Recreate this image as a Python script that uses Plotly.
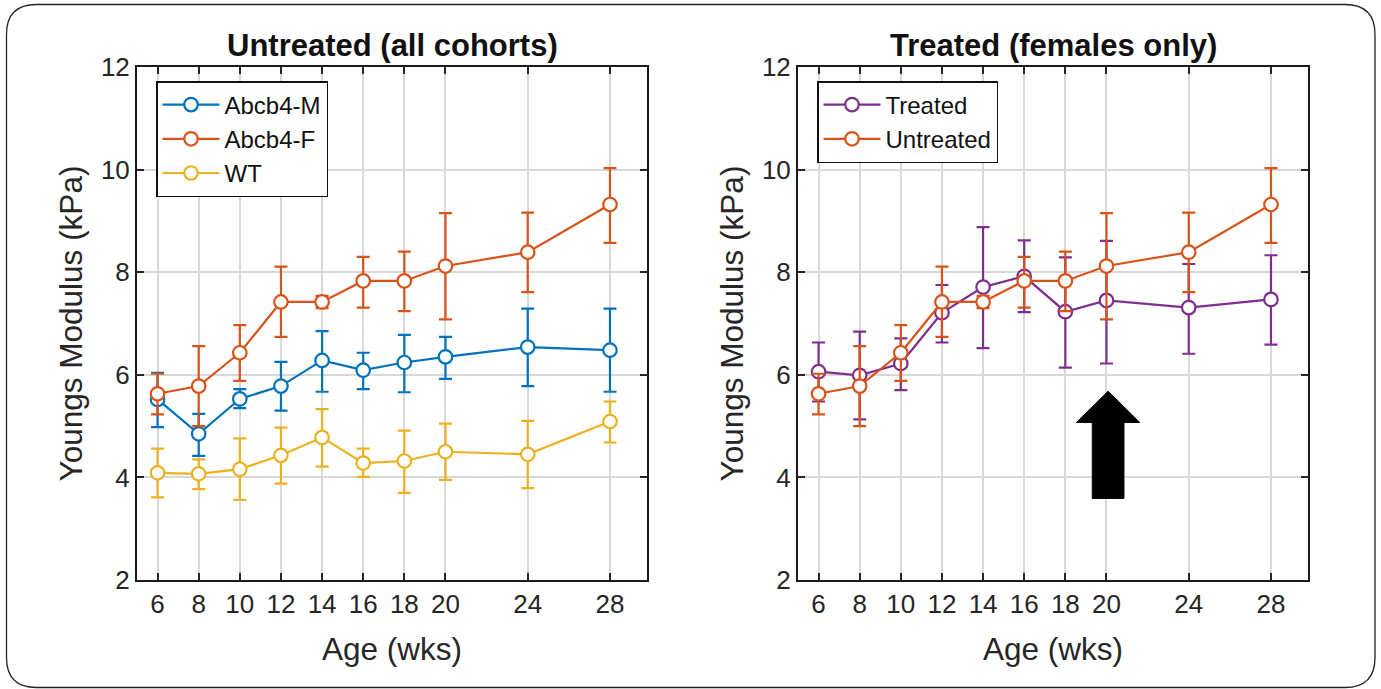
import plotly.graph_objects as go
import numpy as np

# ---------------- data ----------------
age = [6, 8, 10, 12, 14, 16, 18, 20, 24, 28]

abcb4_m = [5.52, 4.85, 5.53, 5.78, 6.28, 6.09, 6.24, 6.35, 6.54, 6.48]
abcb4_m_hi = [6.04, 5.24, 5.72, 6.25, 6.85, 6.43, 6.78, 6.74, 7.29, 7.29]
abcb4_m_lo = [4.98, 4.42, 5.35, 5.30, 5.67, 5.72, 5.66, 5.92, 5.78, 5.67]

abcb4_f = [5.63, 5.78, 6.43, 7.42, 7.42, 7.83, 7.83, 8.12, 8.39, 9.32]
abcb4_f_hi = [6.02, 6.56, 6.97, 8.11, 7.54, 8.30, 8.40, 9.15, 9.16, 10.03]
abcb4_f_lo = [5.23, 5.00, 5.88, 6.74, 7.30, 7.31, 7.24, 7.08, 7.61, 8.57]

wt = [4.09, 4.07, 4.16, 4.43, 4.78, 4.28, 4.32, 4.50, 4.45, 5.09]
wt_hi = [4.56, 4.35, 4.76, 4.97, 5.33, 4.56, 4.91, 5.05, 5.10, 5.48]
wt_lo = [3.61, 3.77, 3.56, 3.88, 4.21, 4.01, 3.70, 3.95, 3.79, 4.68]

treated = [6.06, 5.99, 6.22, 7.21, 7.71, 7.92, 7.23, 7.45, 7.31, 7.47]
treated_hi = [6.63, 6.84, 6.71, 7.75, 8.88, 8.62, 8.29, 8.61, 8.16, 8.33]
treated_lo = [5.48, 5.13, 5.70, 6.63, 6.52, 7.22, 6.14, 6.22, 6.41, 6.59]

x_ticks = [6, 8, 10, 12, 14, 16, 18, 20, 24, 28]
y_ticks = [2, 4, 6, 8, 10, 12]

# arrow annotation (treatment start) in data units of right panel
ARROW_X = 20.08
ARROW_TIP = 5.68
ARROW_HEAD_BASE = 5.07
ARROW_TAIL = 3.59
ARROW_HEAD_HALF = 1.54
ARROW_SHAFT_HALF = 0.77

# ---------------- style ----------------
BLUE = "#0072BD"
ORANGE = "#D95319"
YELLOW = "#EDB120"
PURPLE = "#7E2F8E"
FONT = "Liberation Sans, Arial, sans-serif"
W, H = 1381, 689


def series(x, y, hi, lo, name, color, legend, xa, ya):
    y = np.array(y)
    return go.Scatter(
        x=x, y=y, name=name, mode="lines+markers",
        line=dict(color=color, width=2.2),
        marker=dict(symbol="circle", size=13.5, color="white",
                    line=dict(color=color, width=2.2)),
        error_y=dict(type="data", symmetric=False,
                     array=np.array(hi) - y, arrayminus=y - np.array(lo),
                     color=color, thickness=2.2, width=6.5),
        legend=legend, xaxis=xa, yaxis=ya,
    )


fig = go.Figure()
fig.add_trace(series(age, abcb4_m, abcb4_m_hi, abcb4_m_lo, "Abcb4-M", BLUE, "legend", "x", "y"))
fig.add_trace(series(age, abcb4_f, abcb4_f_hi, abcb4_f_lo, "Abcb4-F", ORANGE, "legend", "x", "y"))
fig.add_trace(series(age, wt, wt_hi, wt_lo, "WT", YELLOW, "legend", "x", "y"))
fig.add_trace(series(age, treated, treated_hi, treated_lo, "Treated", PURPLE, "legend2", "x2", "y2"))
fig.add_trace(series(age, abcb4_f, abcb4_f_hi, abcb4_f_lo, "Untreated", ORANGE, "legend2", "x2", "y2"))

# panel geometry in pixels
L1, R1 = 137, 647
L2, R2 = 798, 1308
TOP, BOT = 67, 580

xdom1 = [L1 / W, R1 / W]
xdom2 = [L2 / W, R2 / W]
ydom = [1 - BOT / H, 1 - TOP / H]

axis_common = dict(
    showline=True, linewidth=2, linecolor="#1a1a1a", mirror="allticks",
    ticks="inside", ticklen=7, tickwidth=1.5, tickcolor="#262626",
    showgrid=True, gridcolor="#d8d8d8", gridwidth=1.7, zeroline=False,
    automargin=False,
    tickfont=dict(family=FONT, size=26, color="#262626"),
)

xcommon = dict(axis_common, range=[5, 29.8], tickvals=x_ticks,
               ticktext=[str(t) for t in x_ticks],
               title=dict(text="Age (wks)", font=dict(family=FONT, size=31.5, color="#262626"), standoff=20))
ycommon = dict(axis_common, range=[2, 12], tickvals=y_ticks,
               ticktext=[str(t) for t in y_ticks],
               title=dict(text="Youngs Modulus (kPa)", font=dict(family=FONT, size=31.5, color="#262626"), standoff=9))

legend_common = dict(
    bgcolor="white", bordercolor="#111111", borderwidth=1.5,
    font=dict(family=FONT, size=24, color="#111111"),
    xanchor="left", yanchor="top", itemwidth=57, tracegroupgap=0,
)

fig.update_layout(
    width=W, height=H,
    margin=dict(l=0, r=0, t=0, b=0, pad=0, autoexpand=False),
    paper_bgcolor="white", plot_bgcolor="white",
    font=dict(family=FONT, color="#262626"),
    xaxis=dict(xcommon, domain=xdom1, anchor="y"),
    yaxis=dict(ycommon, domain=ydom, anchor="x"),
    xaxis2=dict(xcommon, domain=xdom2, anchor="y2"),
    yaxis2=dict(ycommon, domain=ydom, anchor="x2"),
    legend=dict(legend_common, x=156 / W, y=1 - 81 / H),
    legend2=dict(legend_common, x=817 / W, y=1 - 81 / H),
    showlegend=True,
)

# panel titles
for (l, r), txt in [((L1, R1), "Untreated (all cohorts)"), ((L2, R2), "Treated (females only)")]:
    fig.add_annotation(
        x=(l + r) / 2 / W, y=1 - 45 / H, xref="paper", yref="paper",
        text="<b>%s</b>" % txt, showarrow=False, xanchor="center", yanchor="middle",
        font=dict(family=FONT, size=31, color="#111111"),
    )

# arrow
ax = ARROW_X
arrow_path = (
    f"M {ax - ARROW_SHAFT_HALF},{ARROW_TAIL} "
    f"L {ax + ARROW_SHAFT_HALF},{ARROW_TAIL} "
    f"L {ax + ARROW_SHAFT_HALF},{ARROW_HEAD_BASE} "
    f"L {ax + ARROW_HEAD_HALF},{ARROW_HEAD_BASE} "
    f"L {ax},{ARROW_TIP} "
    f"L {ax - ARROW_HEAD_HALF},{ARROW_HEAD_BASE} "
    f"L {ax - ARROW_SHAFT_HALF},{ARROW_HEAD_BASE} Z"
)
fig.add_shape(type="path", path=arrow_path, xref="x2", yref="y2",
              fillcolor="black", line=dict(color="black", width=1), layer="above")

# rounded outer border
x0, x1 = 6.5 / W, 1375 / W
y0, y1 = 1 - 687.5 / H, 1 - 4.5 / H
rx, ry = 30 / W, 30 / H
border = (
    f"M {x0 + rx},{y1} L {x1 - rx},{y1} Q {x1},{y1} {x1},{y1 - ry} "
    f"L {x1},{y0 + ry} Q {x1},{y0} {x1 - rx},{y0} "
    f"L {x0 + rx},{y0} Q {x0},{y0} {x0},{y0 + ry} "
    f"L {x0},{y1 - ry} Q {x0},{y1} {x0 + rx},{y1} Z"
)
fig.add_shape(type="path", path=border, xref="paper", yref="paper",
              line=dict(color="#222222", width=1.3), layer="above")

fig.write_html("out.html")
